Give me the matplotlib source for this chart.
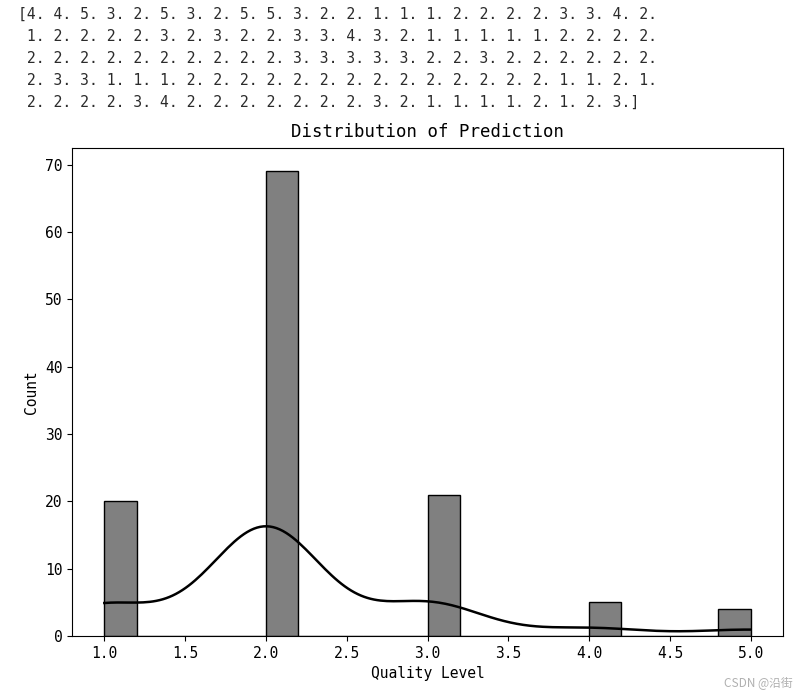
import numpy as np
import matplotlib
matplotlib.use("Agg")
import matplotlib.pyplot as plt
import seaborn as sns

# predicted quality levels (as printed above the chart)
row1 = [4, 4, 5, 3, 2, 5, 3, 2, 5, 5, 3, 2, 2, 1, 1, 1, 2, 2, 2, 2, 3, 3, 4, 2]
row2 = [1, 2, 2, 2, 2, 3, 2, 3, 2, 2, 3, 3, 4, 3, 2, 1, 1, 1, 1, 1, 2, 2, 2, 2]
row3 = [2, 2, 2, 2, 2, 2, 2, 2, 2, 2, 3, 3, 3, 3, 3, 2, 2, 3, 2, 2, 2, 2, 2, 2]
row4 = [2, 3, 3, 1, 1, 1, 2, 2, 2, 2, 2, 2, 2, 2, 2, 2, 2, 2, 2, 2, 1, 1, 2, 1]
row5 = [2, 2, 2, 2, 3, 4, 2, 2, 2, 2, 2, 2, 2, 3, 2, 1, 1, 1, 1, 2, 1, 2, 3]
pred = np.array(row1 + row2 + row3 + row4 + row5, dtype=float)

title = "Distribution of Prediction"
xlabel = "Quality Level"
ylabel = "Count"

mono = ["DejaVu Sans Mono", "Noto Sans CJK SC"]

fig = plt.figure(figsize=(8.08, 6.98), dpi=100)
ax = fig.add_axes([0.0891, 0.0888, 0.880, 0.699])

sns.histplot(pred, bins=20, kde=True, color="black", ax=ax,
             facecolor="#808080", edgecolor="black", linewidth=1.0,
             line_kws={"linewidth": 1.8})

ax.set_title(title, family=mono, fontsize=12.5, pad=8)
ax.set_xlabel(xlabel, family=mono, fontsize=10.5, labelpad=4)
ax.set_ylabel(ylabel, family=mono, fontsize=10.5, labelpad=4)
for lab in ax.get_xticklabels() + ax.get_yticklabels():
    lab.set_family(mono)
    lab.set_fontsize(10.5)

# printed array output above the chart
txt = str(pred)
fig.text(18 / 808, 1 - 7 / 698, txt, family=mono, fontsize=10.6,
         color="#2b2b2b", va="top", ha="left", linespacing=1.58)

fig.text(758 / 808, 1 - 683 / 698, "CSDN @沿街", family=["Noto Sans CJK SC", "DejaVu Sans"],
         fontsize=8.5, color="#b0b0b0", ha="center", va="center")

fig.savefig("out.png", dpi=100)
